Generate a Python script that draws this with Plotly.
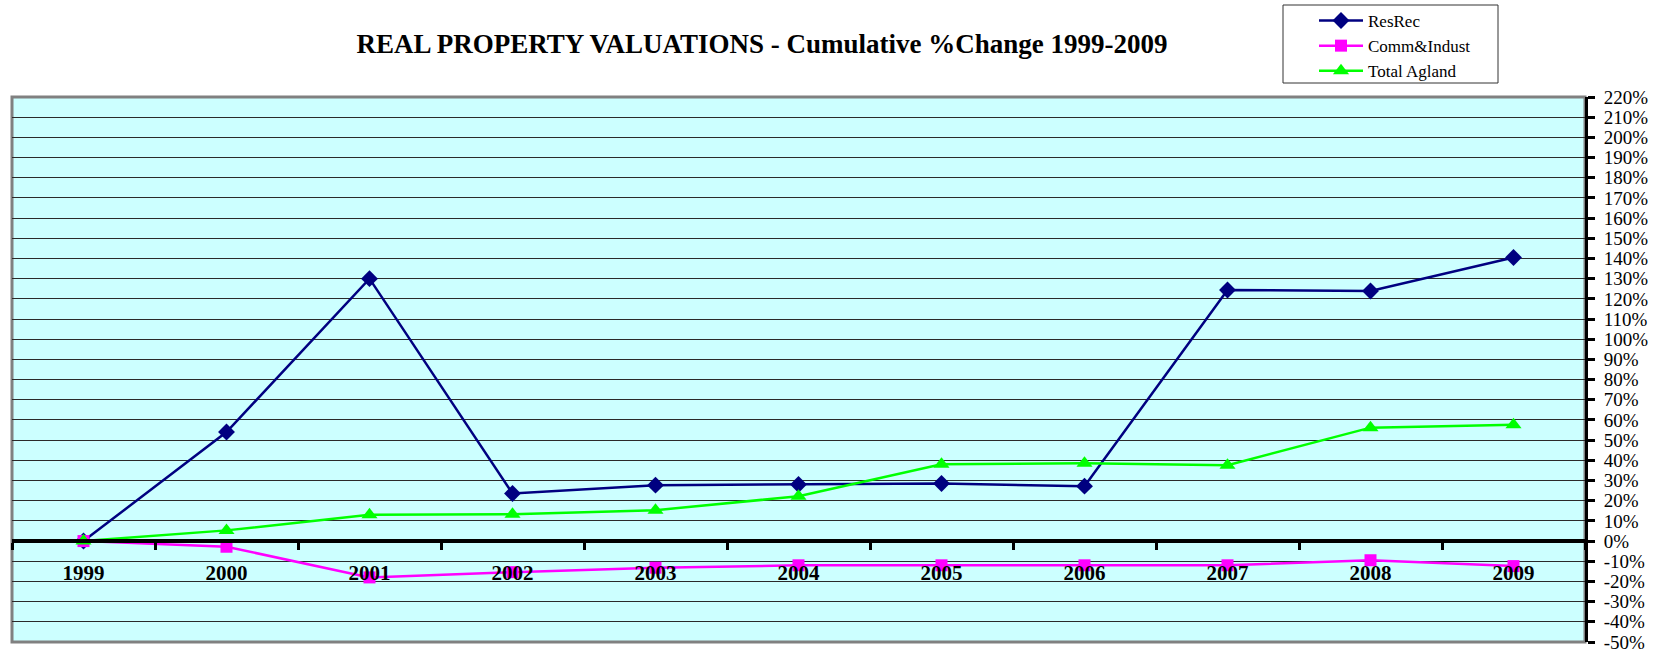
import plotly.graph_objects as go

years = ["1999", "2000", "2001", "2002", "2003", "2004", "2005", "2006", "2007", "2008", "2009"]
resrec = [0, 54, 130, 23.6, 27.7, 28, 28.5, 27.2, 124.4, 123.9, 140.5]
comm_indust = [0, -2.8, -18, -15.4, -13.2, -12, -12, -12, -12, -9.5, -12.4]
total_agland = [0, 5.3, 13, 13.3, 15.3, 22.2, 38.1, 38.5, 37.6, 56.2, 57.6]
y_ticks = list(range(-50, 221, 10))

FONT = "Liberation Serif, Times New Roman, serif"
xs = list(range(len(years)))
bounds = [i - 0.5 for i in range(len(years) + 1)]

W, H = 1653, 651
ML, MR, MT, MB = 12, 68, 97, 9
PW, PH = W - ML - MR, H - MT - MB

fig = go.Figure()
fig.add_trace(go.Scatter(x=xs, y=resrec, name="ResRec", mode="lines+markers",
                         line=dict(color="#000080", width=2.5),
                         marker=dict(symbol="diamond", size=13, color="#000080")))
fig.add_trace(go.Scatter(x=xs, y=comm_indust, name="Comm&Indust", mode="lines+markers",
                         line=dict(color="#FF00FF", width=2.5),
                         marker=dict(symbol="square", size=12, color="#FF00FF")))
fig.add_trace(go.Scatter(x=xs, y=total_agland, name="Total Agland", mode="lines+markers",
                         line=dict(color="#00FF00", width=2.5),
                         marker=dict(symbol="triangle-up", size=14, color="#00FF00")))

zero_pos = (0 - y_ticks[0]) / (y_ticks[-1] - y_ticks[0])

fig.update_layout(
    width=W, height=H,
    margin=dict(l=ML, r=MR, t=MT, b=MB, autoexpand=False),
    paper_bgcolor="white",
    plot_bgcolor="#CCFFFF",
    font=dict(family=FONT, color="black"),
    title=dict(text="<b>REAL PROPERTY VALUATIONS - Cumulative %Change 1999-2009</b>",
               x=0.461, xanchor="center", xref="container",
               y=0.933, yanchor="middle", yref="container",
               font=dict(size=27, family=FONT, color="black")),
    showlegend=True,
    legend=dict(xref="container", yref="container",
                x=1314 / W, xanchor="left", y=1 - 3 / H, yanchor="top",
                bgcolor="rgba(0,0,0,0)", borderwidth=0, itemwidth=44,
                font=dict(size=17, family=FONT), tracegroupgap=0,
                traceorder="normal"),
    xaxis=dict(range=[-0.5, len(years) - 0.5], anchor="free", position=zero_pos,
               tickvals=xs, ticktext=years, ticks="", showgrid=False,
               showline=True, linecolor="black", linewidth=4,
               tickfont=dict(size=21, family=FONT, color="black", weight="bold"),
               ticklabelstandoff=12, zeroline=False,
               minor=dict(tickvals=bounds, ticks="outside", ticklen=7, tickwidth=3,
                          tickcolor="black", showgrid=False)),
    yaxis=dict(range=[y_ticks[0], y_ticks[-1]], side="right", tickvals=y_ticks,
               ticktext=[f"{v}%" for v in y_ticks],
               showgrid=True, gridcolor="#2a2a2a", gridwidth=1,
               showline=True, linecolor="black", linewidth=3,
               ticks="outside", ticklen=7, tickwidth=3, tickcolor="black",
               tickfont=dict(size=19, family=FONT, color="black"),
               ticklabelstandoff=5, ticklabeloverflow="allow", zeroline=False),
)

# plot-area frame
fig.add_shape(type="rect", xref="paper", yref="paper", x0=0, x1=1, y0=0, y1=1,
              line=dict(color="#808080", width=3), layer="below")
# legend frame (pixel box converted to paper coords)
fig.add_shape(type="rect", xref="paper", yref="paper",
              x0=(1283 - ML) / PW, x1=(1498 - ML) / PW,
              y0=(H - MB - 83) / PH, y1=(H - MB - 5) / PH,
              line=dict(color="#333333", width=1), fillcolor="white", layer="below")

fig.write_html("out.html", config={"displayModeBar": False},
               post_script="document.body.style.margin='0';document.body.style.overflow='hidden';")
